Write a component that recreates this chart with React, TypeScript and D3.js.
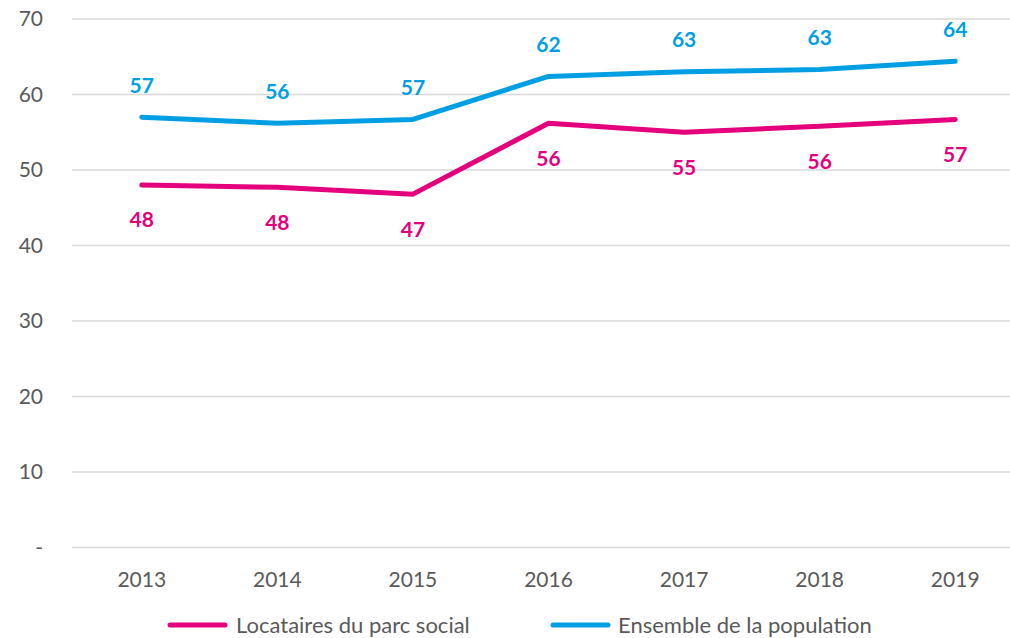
import React from "react";
import * as d3 from "d3";

const years = ["2013", "2014", "2015", "2016", "2017", "2018", "2019"];
const locataires = [48.0, 47.7, 46.8, 56.2, 55.0, 55.8, 56.7];
const ensemble = [57.0, 56.2, 56.7, 62.4, 63.0, 63.3, 64.4];
const yTicks = [0, 10, 20, 30, 40, 50, 60, 70];
const seriesNames = ["Locataires du parc social", "Ensemble de la population"];

const W = 1010, H = 638;
const PINK = "#e4007c", BLUE = "#009fe3";
const FONT = "Lato, 'Open Sans', sans-serif";

export default function App() {
  const x = d3.scalePoint<string>().domain(years).range([74, 1023]).padding(0.5);
  const y = d3.scaleLinear().domain([0, 70]).range([547.5, 19]);
  const line = d3.line<number>().x((_, i) => x(years[i])!).y((d) => y(d));
  const series = [
    { name: seriesNames[0], data: locataires, color: PINK, dy: 35, lx: 170, tx: 236 },
    { name: seriesNames[1], data: ensemble, color: BLUE, dy: -32, lx: 553, tx: 618 },
  ];
  return (
    <svg width={W} height={H} style={{ position: "absolute", left: 0, top: 0, background: "#fff" }}>
      {yTicks.map((t) => (
        <g key={t}>
          <line x1={72} x2={1023} y1={y(t)} y2={y(t)} stroke="#d9d9d9" strokeWidth={1.3} />
          <text x={43} y={y(t)} dy="0.35em" textAnchor="end" fontFamily={FONT} fontSize={21} fill="#595959">
            {t === 0 ? "-" : t}
          </text>
        </g>
      ))}
      {years.map((yr) => (
        <text key={yr} x={x(yr)!} y={580} dy="0.35em" textAnchor="middle" fontFamily={FONT} fontSize={21} fill="#595959">
          {yr}
        </text>
      ))}
      {series.map((s) => (
        <g key={s.name}>
          <path d={line(s.data)!} fill="none" stroke={s.color} strokeWidth={5} strokeLinecap="round" strokeLinejoin="round" />
          {s.data.map((v, i) => (
            <text key={i} x={x(years[i])!} y={y(v) + s.dy} dy="0.35em" textAnchor="middle" fontFamily={FONT} fontWeight={700} fontSize={21} fill={s.color}>
              {Math.round(v)}
            </text>
          ))}
        </g>
      ))}
      {series.map((s) => (
        <g key={s.name}>
          <line x1={s.lx} x2={s.lx + 55} y1={625} y2={625} stroke={s.color} strokeWidth={5} strokeLinecap="round" />
          <text x={s.tx} y={625} dy="0.35em" fontFamily={FONT} fontSize={22} fill="#595959">
            {s.name}
          </text>
        </g>
      ))}
    </svg>
  );
}
